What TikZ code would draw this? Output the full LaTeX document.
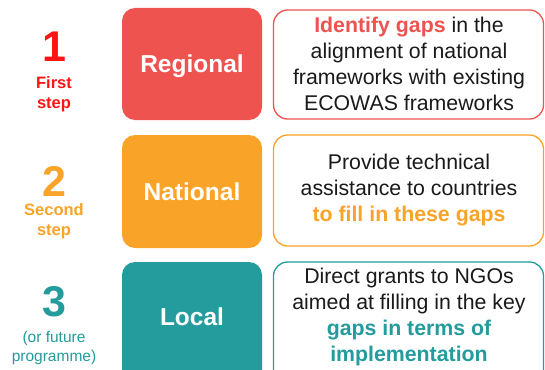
\documentclass[tikz,border=0pt]{standalone}
\usepackage{fontspec}
\setmainfont{Liberation Sans}
\definecolor{regred}{HTML}{EF5350}
\definecolor{stepred}{HTML}{FF1414}
\definecolor{natorange}{HTML}{F9A428}
\definecolor{locteal}{HTML}{249B9C}
\definecolor{bodytext}{HTML}{1A1A1A}
\tikzset{
  levelbox/.style={rounded corners=13pt, minimum width=140pt, inner sep=0pt,
    text depth=0pt, text=white, font=\fontsize{24.5}{27}\selectfont\bfseries},
  actionbox/.style={draw=#1, line width=1.3pt, rounded corners=14pt, fill=white,
    minimum width=270pt, inner sep=0pt},
  actiontext/.style={align=center, inner sep=0pt, text=bodytext,
    font=\fontsize{21.3}{26}\selectfont},
  stepnum/.style={text=#1, inner sep=0pt, font=\fontsize{43}{43}\selectfont\bfseries},
  steplabel/.style={text=#1, inner sep=0pt, align=center,
    font=\fontsize{16.5}{20}\selectfont\bfseries},
}
\begin{document}
\begin{tikzpicture}[x=1pt, y=-1pt]
  \useasboundingbox (0,0) rectangle (545,369);
  \clip (0,0) rectangle (545,369);
  \fill[white] (0,0) rectangle (545,369);

  % step numbers and captions
  \node[stepnum=stepred] (n1) at (54,47) {1};
  \node[steplabel=stepred] (l1) at (54,94) {First\\step};
  \node[stepnum=natorange] (n2) at (54,181) {2};
  \node[steplabel=natorange] (l2) at (54,221) {Second\\step};
  \node[stepnum=locteal] (n3) at (54,302) {3};
  \node[text=locteal, inner sep=0pt, align=center,
        font=\fontsize{15.5}{18.5}\selectfont] (l3) at (54,348) {(or future\\programme)};

  % level boxes (the lowest one runs past the bottom edge)
  \node[levelbox, fill=regred, minimum height=112pt] (reg) at (192,64) {Regional};
  \node[levelbox, fill=natorange, minimum height=113pt] (nat) at (192,191.5) {National};
  \node[levelbox, fill=locteal, minimum height=124pt, text depth=15pt] (loc) at (192,324) {Local};

  % action boxes
  \node[actionbox=regred, minimum height=109pt] (a1) at (408.5,64.5) {};
  \node[actiontext] (t1) at (409,64)
    {\textcolor{regred}{\bfseries Identify gaps} in the\\
     alignment of national\\
     frameworks with existing\\
     ECOWAS frameworks};

  \node[actionbox=natorange, minimum height=111pt] (a2) at (408.5,190.5) {};
  \node[actiontext] (t2) at (409,190)
    {Provide technical\\
     assistance to countries\\
     \textcolor{natorange}{\bfseries to fill in these gaps}};

  \node[actionbox=locteal, minimum height=124pt] (a3) at (408.5,324) {};
  \node[actiontext] (t3) at (409,317)
    {Direct grants to NGOs\\
     aimed at filling in the key\\
     \textcolor{locteal}{\bfseries gaps in terms of}\\
     \textcolor{locteal}{\bfseries implementation}};
\end{tikzpicture}
\end{document}
